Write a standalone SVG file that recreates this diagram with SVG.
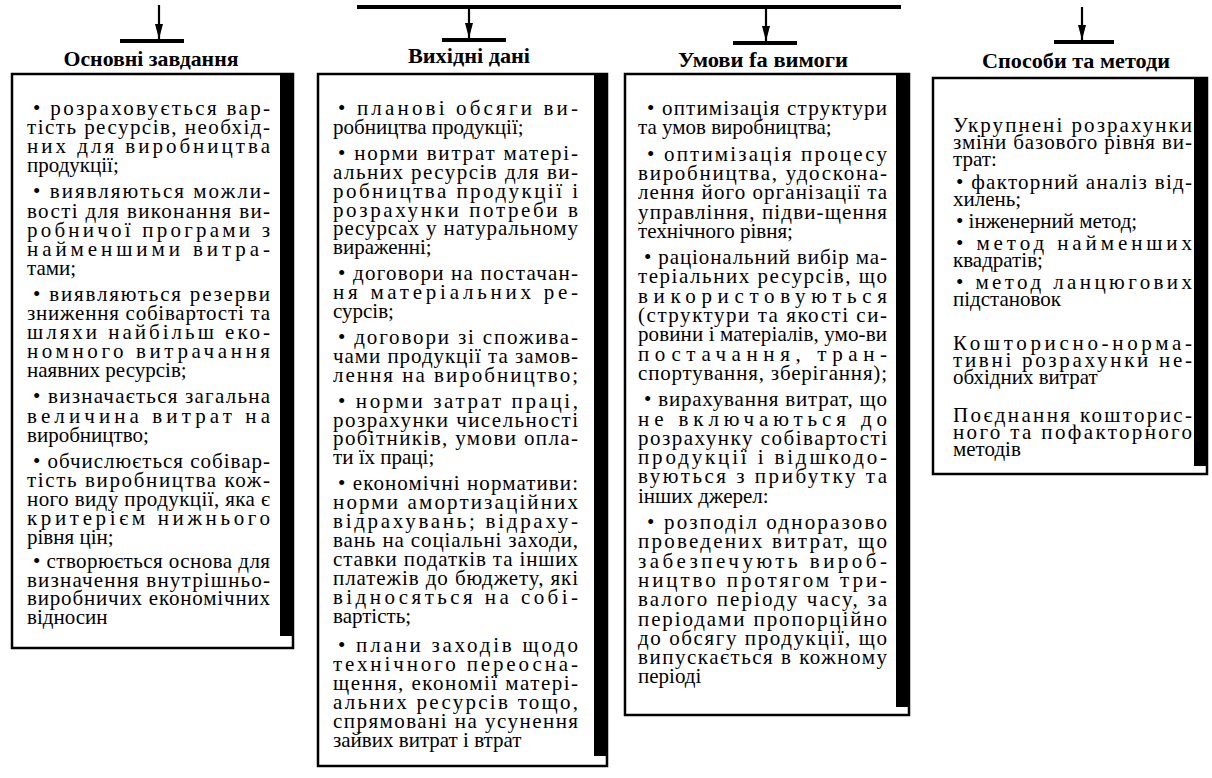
<svg xmlns="http://www.w3.org/2000/svg" width="1212" height="778" viewBox="0 0 1212 778">
  <style>
    .t { font-family: "Liberation Serif", "Times New Roman", serif; font-size: 21px; fill: #000; }
    .h { font-family: "Liberation Serif", "Times New Roman", serif; font-size: 21px; font-weight: bold; fill: #000; text-anchor: middle; }
    .box { fill: #fff; stroke: #000; stroke-width: 2.5; }
    .band { fill: #000; }
    .bar { stroke: #000; stroke-width: 4; fill: none; }
    .stem { stroke: #000; stroke-width: 2.2; fill: none; }
  </style>
  <defs>
    <marker id="head" markerUnits="userSpaceOnUse" markerWidth="16" markerHeight="10" refX="15" refY="5" orient="auto">
      <path d="M0,1 L15,5 L0,9 z" fill="#000"/>
    </marker>
  </defs>

  <rect width="1212" height="778" fill="#fff"/>

  <!-- connectors -->
  <g id="connectors">
    <line class="bar" x1="357" y1="7" x2="901" y2="7"/>
    <line class="stem" x1="159" y1="5" x2="159" y2="39" marker-end="url(#head)"/>
    <line class="bar" x1="120" y1="41" x2="184" y2="41"/>
    <line class="stem" x1="469" y1="8" x2="469" y2="38" marker-end="url(#head)"/>
    <line class="bar" x1="442" y1="40" x2="506" y2="40"/>
    <line class="stem" x1="766" y1="8" x2="766" y2="41" marker-end="url(#head)"/>
    <line class="bar" x1="733" y1="43" x2="797" y2="43"/>
    <line class="stem" x1="1082" y1="7" x2="1082" y2="40" marker-end="url(#head)"/>
    <line class="bar" x1="1054" y1="42" x2="1114" y2="42"/>
  </g>

  <!-- main tasks -->
  <g id="node-tasks">
    <text class="h" x="151" y="66" textLength="175" lengthAdjust="spacingAndGlyphs">Основні завдання</text>
    <rect class="box" x="12" y="74" width="281" height="574"/>
    <rect class="band" x="280" y="74" width="13" height="562"/>
    <text class="t" x="33" y="115" textLength="237" lengthAdjust="spacing">•  розраховується вар-</text>
    <text class="t" x="27" y="134.1" textLength="243" lengthAdjust="spacing">тість ресурсів, необхід-</text>
    <text class="t" x="27" y="153.2" textLength="243" lengthAdjust="spacing">них для виробництва</text>
    <text class="t" x="27" y="172.3">продукції;</text>
    <text class="t" x="33" y="198.4" textLength="237" lengthAdjust="spacing">•  виявляються можли-</text>
    <text class="t" x="27" y="217.5" textLength="243" lengthAdjust="spacing">вості для виконання ви-</text>
    <text class="t" x="27" y="236.6" textLength="243" lengthAdjust="spacing">робничої програми з</text>
    <text class="t" x="27" y="255.7" textLength="243" lengthAdjust="spacing">найменшими витра-</text>
    <text class="t" x="27" y="274.8">тами;</text>
    <text class="t" x="33" y="300.9" textLength="237" lengthAdjust="spacing">•  виявляються резерви</text>
    <text class="t" x="27" y="320" textLength="243" lengthAdjust="spacing">зниження собівартості та</text>
    <text class="t" x="27" y="339.1" textLength="243" lengthAdjust="spacing">шляхи найбільш еко-</text>
    <text class="t" x="27" y="358.2" textLength="243" lengthAdjust="spacing">номного витрачання</text>
    <text class="t" x="27" y="377.3">наявних ресурсів;</text>
    <text class="t" x="33" y="403.4" textLength="237" lengthAdjust="spacing">•  визначається загальна</text>
    <text class="t" x="27" y="422.5" textLength="243" lengthAdjust="spacing">величина витрат на</text>
    <text class="t" x="27" y="441.6">виробництво;</text>
    <text class="t" x="33" y="467.7" textLength="237" lengthAdjust="spacing">• обчислюється собівар-</text>
    <text class="t" x="27" y="486.8" textLength="243" lengthAdjust="spacing">тість виробництва кож-</text>
    <text class="t" x="27" y="505.9" textLength="243" lengthAdjust="spacing">ного виду продукції, яка є</text>
    <text class="t" x="27" y="525" textLength="243" lengthAdjust="spacing">критерієм нижнього</text>
    <text class="t" x="27" y="544.1">рівня цін;</text>
    <text class="t" x="33" y="568" textLength="237" lengthAdjust="spacing">• створюється основа для</text>
    <text class="t" x="27" y="586.5" textLength="243" lengthAdjust="spacing">визначення внутрішньо-</text>
    <text class="t" x="27" y="605" textLength="243" lengthAdjust="spacing">виробничих економічних</text>
    <text class="t" x="27" y="623.5">відносин</text>
  </g>

  <!-- source data -->
  <g id="node-source-data">
    <text class="h" x="469" y="63" textLength="122" lengthAdjust="spacingAndGlyphs">Вихідні дані</text>
    <rect class="box" x="318" y="74" width="289" height="692"/>
    <rect class="band" x="594" y="74" width="13" height="682"/>
    <text class="t" x="338" y="115" textLength="240" lengthAdjust="spacing">•  планові обсяги ви-</text>
    <text class="t" x="333" y="133.9">робництва продукції;</text>
    <text class="t" x="338" y="159.8" textLength="240" lengthAdjust="spacing">•  норми витрат матері-</text>
    <text class="t" x="333" y="178.7" textLength="245" lengthAdjust="spacing">альних ресурсів для ви-</text>
    <text class="t" x="333" y="197.6" textLength="245" lengthAdjust="spacing">робництва продукції і</text>
    <text class="t" x="333" y="216.5" textLength="245" lengthAdjust="spacing">розрахунки потреби в</text>
    <text class="t" x="333" y="235.4" textLength="245" lengthAdjust="spacing">ресурсах у натуральному</text>
    <text class="t" x="333" y="254.3">вираженні;</text>
    <text class="t" x="338" y="280.2" textLength="240" lengthAdjust="spacing">• договори на постачан-</text>
    <text class="t" x="333" y="299.1" textLength="245" lengthAdjust="spacing">ня матеріальних ре-</text>
    <text class="t" x="333" y="318">сурсів;</text>
    <text class="t" x="338" y="343.9" textLength="240" lengthAdjust="spacing">• договори зі спожива-</text>
    <text class="t" x="333" y="362.8" textLength="245" lengthAdjust="spacing">чами продукції та замов-</text>
    <text class="t" x="333" y="381.7" textLength="245" lengthAdjust="spacing">лення на виробництво;</text>
    <text class="t" x="338" y="407.6" textLength="240" lengthAdjust="spacing">•  норми затрат праці,</text>
    <text class="t" x="333" y="426.5" textLength="245" lengthAdjust="spacing">розрахунки чисельності</text>
    <text class="t" x="333" y="445.4" textLength="245" lengthAdjust="spacing">робітників, умови опла-</text>
    <text class="t" x="333" y="464.3">ти їх праці;</text>
    <text class="t" x="338" y="490.2" textLength="240" lengthAdjust="spacing">• економічні нормативи:</text>
    <text class="t" x="333" y="509.1" textLength="245" lengthAdjust="spacing">норми амортизаційних</text>
    <text class="t" x="333" y="528" textLength="245" lengthAdjust="spacing">відрахувань; відраху-</text>
    <text class="t" x="333" y="546.9" textLength="245" lengthAdjust="spacing">вань на соціальні заходи,</text>
    <text class="t" x="333" y="565.8" textLength="245" lengthAdjust="spacing">ставки податків та інших</text>
    <text class="t" x="333" y="584.7" textLength="245" lengthAdjust="spacing">платежів до бюджету, які</text>
    <text class="t" x="333" y="603.6" textLength="245" lengthAdjust="spacing">відносяться на собі-</text>
    <text class="t" x="333" y="622.5">вартість;</text>
    <text class="t" x="338" y="652.4" textLength="240" lengthAdjust="spacing">•  плани заходів щодо</text>
    <text class="t" x="333" y="671.3" textLength="245" lengthAdjust="spacing">технічного переосна-</text>
    <text class="t" x="333" y="690.2" textLength="245" lengthAdjust="spacing">щення, економії матері-</text>
    <text class="t" x="333" y="709.1" textLength="245" lengthAdjust="spacing">альних ресурсів тощо,</text>
    <text class="t" x="333" y="728" textLength="245" lengthAdjust="spacing">спрямовані на усунення</text>
    <text class="t" x="333" y="746.9">зайвих витрат і втрат</text>
  </g>

  <!-- conditions and requirements -->
  <g id="node-conditions">
    <text class="h" x="763" y="67" textLength="170" lengthAdjust="spacingAndGlyphs">Умови  fa  вимоги</text>
    <rect class="box" x="625" y="74" width="284" height="641"/>
    <rect class="band" x="896" y="74" width="13" height="633"/>
    <text class="t" x="647" y="115" textLength="240" lengthAdjust="spacing">•  оптимізація структури</text>
    <text class="t" x="638" y="134.3">та умов виробництва;</text>
    <text class="t" x="647" y="160.6" textLength="240" lengthAdjust="spacing">•  оптимізація процесу</text>
    <text class="t" x="638" y="179.9" textLength="249" lengthAdjust="spacing">виробництва, удоскона-</text>
    <text class="t" x="638" y="199.2" textLength="249" lengthAdjust="spacing">лення його організації та</text>
    <text class="t" x="638" y="218.5" textLength="249" lengthAdjust="spacing">управління, підви-щення</text>
    <text class="t" x="638" y="237.8">технічного рівня;</text>
    <text class="t" x="644" y="264.1" textLength="243" lengthAdjust="spacing">• раціональний вибір ма-</text>
    <text class="t" x="638" y="283.4" textLength="249" lengthAdjust="spacing">теріальних ресурсів, що</text>
    <text class="t" x="638" y="302.7" textLength="249" lengthAdjust="spacing">використовуються</text>
    <text class="t" x="638" y="322" textLength="249" lengthAdjust="spacing">(структури та якості си-</text>
    <text class="t" x="638" y="341.3" textLength="249" lengthAdjust="spacing">ровини і матеріалів, умо-ви</text>
    <text class="t" x="638" y="360.6" textLength="249" lengthAdjust="spacing">постачання, тран-</text>
    <text class="t" x="638" y="379.9" textLength="249" lengthAdjust="spacing">спортування, зберігання);</text>
    <text class="t" x="644" y="406.2" textLength="243" lengthAdjust="spacing">• вирахування витрат, що</text>
    <text class="t" x="638" y="425.5" textLength="249" lengthAdjust="spacing">не включаються до</text>
    <text class="t" x="638" y="444.8" textLength="249" lengthAdjust="spacing">розрахунку собівартості</text>
    <text class="t" x="638" y="464.1" textLength="249" lengthAdjust="spacing">продукції і відшкодо-</text>
    <text class="t" x="638" y="483.4" textLength="249" lengthAdjust="spacing">вуються з прибутку та</text>
    <text class="t" x="638" y="502.7">інших джерел:</text>
    <text class="t" x="647" y="529" textLength="240" lengthAdjust="spacing">•  розподіл одноразово</text>
    <text class="t" x="638" y="548.3" textLength="249" lengthAdjust="spacing">проведених витрат, що</text>
    <text class="t" x="638" y="567.6" textLength="249" lengthAdjust="spacing">забезпечують вироб-</text>
    <text class="t" x="638" y="586.9" textLength="249" lengthAdjust="spacing">ництво протягом три-</text>
    <text class="t" x="638" y="606.2" textLength="249" lengthAdjust="spacing">валого періоду часу, за</text>
    <text class="t" x="638" y="625.5" textLength="249" lengthAdjust="spacing">періодами пропорційно</text>
    <text class="t" x="638" y="644.8" textLength="249" lengthAdjust="spacing">до обсягу продукції, що</text>
    <text class="t" x="638" y="664.1" textLength="249" lengthAdjust="spacing">випускається в кожному</text>
    <text class="t" x="638" y="683.4">періоді</text>
  </g>

  <!-- ways and methods -->
  <g id="node-methods">
    <text class="h" x="1076" y="68" textLength="188" lengthAdjust="spacingAndGlyphs">Способи та методи</text>
    <rect class="box" x="933" y="78" width="274" height="396"/>
    <rect class="band" x="1194" y="78" width="13" height="388"/>
    <text class="t" x="953" y="132" textLength="239" lengthAdjust="spacing">Укрупнені розрахунки</text>
    <text class="t" x="953" y="149" textLength="239" lengthAdjust="spacing">зміни базового рівня ви-</text>
    <text class="t" x="953" y="166">трат:</text>
    <text class="t" x="956" y="189" textLength="236" lengthAdjust="spacing">•  факторний аналіз від-</text>
    <text class="t" x="953" y="206">хилень;</text>
    <text class="t" x="956" y="228">•  інженерний метод;</text>
    <text class="t" x="956" y="250" textLength="236" lengthAdjust="spacing">•  метод найменших</text>
    <text class="t" x="953" y="267">квадратів;</text>
    <text class="t" x="956" y="289" textLength="236" lengthAdjust="spacing">•  метод ланцюгових</text>
    <text class="t" x="953" y="306">підстановок</text>
    <text class="t" x="953" y="350" textLength="239" lengthAdjust="spacing">Кошторисно-норма-</text>
    <text class="t" x="953" y="367" textLength="239" lengthAdjust="spacing">тивні розрахунки не-</text>
    <text class="t" x="953" y="384">обхідних витрат</text>
    <text class="t" x="953" y="422" textLength="239" lengthAdjust="spacing">Поєднання кошторис-</text>
    <text class="t" x="953" y="439" textLength="239" lengthAdjust="spacing">ного та пофакторного</text>
    <text class="t" x="953" y="456">методів</text>
  </g>
</svg>
